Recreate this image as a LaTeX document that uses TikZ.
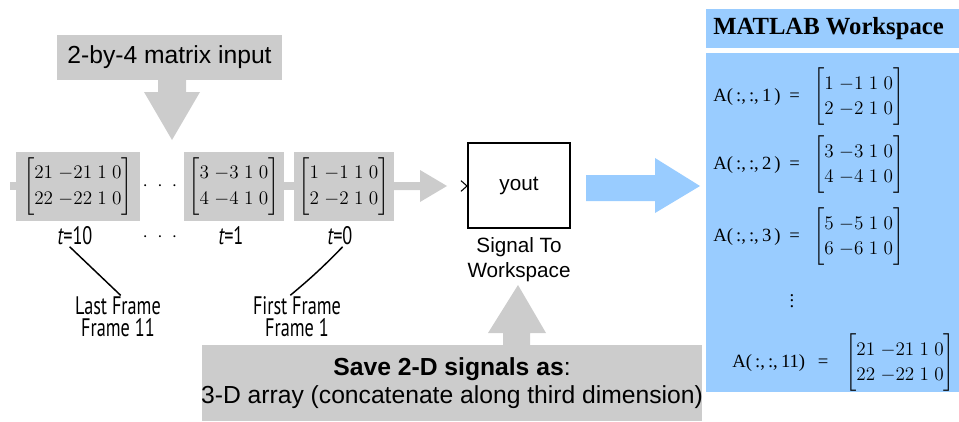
\documentclass[tikz,border=0pt]{standalone}
\usepackage{amsmath}
\usepackage{fontspec}
\usetikzlibrary{positioning}
\setmainfont{Liberation Serif}
\setsansfont{Liberation Sans}
\newfontfamily\framefont[FakeStretch=0.72]{PT Sans}
\definecolor{panelgray}{HTML}{CCCCCC}
\definecolor{wsblue}{HTML}{99CCFF}
\setlength{\arraycolsep}{2pt}
\renewcommand{\arraystretch}{1.2}

\begin{document}
\begin{tikzpicture}[x=0.75pt, y=-0.75pt,
    graybox/.style={fill=panelgray, inner sep=0pt},
    wsbox/.style={fill=wsblue, inner sep=0pt, minimum width=189.75pt},
    label/.style={font=\sffamily\fontsize{18.5}{21}\selectfont, align=center},
    blocktext/.style={font=\sffamily\fontsize{15.5}{18.75}\selectfont, align=center},
    frametext/.style={font=\framefont\fontsize{19}{16.5}\selectfont, align=center, inner sep=1pt},
    mat/.style={font=\fontsize{14}{16}\selectfont, inner sep=0pt},
    dots/.style={font=\fontsize{13.5}{16}\selectfont, inner sep=0pt},
    leader/.style={line width=1.1pt}
]
  \useasboundingbox (0,0) rectangle (959,421);

  \node[graybox, label, minimum width=168.75pt, minimum height=33.75pt] (input) at (169.5,57.5) {2-by-4 matrix input};
  \fill[panelgray] (158,80) -- (158,92) -- (144,92) -- (172,140) -- (200,92) -- (186,92) -- (186,80) -- cycle;

  \fill[panelgray] (10,182) rectangle (16,190);
  \fill[panelgray] (284,182) rectangle (294,190);
  \fill[panelgray] (394,182) -- (420,182) -- (420,170) -- (447,186) -- (420,202) -- (420,190) -- (394,190) -- cycle;

  \node[graybox, mat, minimum width=93pt, minimum height=51.75pt] (f10) at (78,186.5)
    {$\begin{bmatrix}21 & -21 & 1 & 0\\ 22 & -22 & 1 & 0\end{bmatrix}$};
  \node[graybox, mat, minimum width=75pt, minimum height=51.75pt] (f1) at (234,186.5)
    {$\begin{bmatrix}3 & -3 & 1 & 0\\ 4 & -4 & 1 & 0\end{bmatrix}$};
  \node[graybox, mat, minimum width=75pt, minimum height=51.75pt] (f0) at (344,186.5)
    {$\begin{bmatrix}1 & -1 & 1 & 0\\ 2 & -2 & 1 & 0\end{bmatrix}$};
  \node[dots] (gap) at (160,186) {$\cdot$\hspace{7pt}$\cdot$\hspace{7pt}$\cdot$};

  \node[frametext] (t10) at (75,236) {{\itshape t}=10};
  \node[dots] (tgap) at (160,237) {$\cdot$\hspace{7pt}$\cdot$\hspace{7pt}$\cdot$};
  \node[frametext] (t1) at (231,236) {{\itshape t}=1};
  \node[frametext] (t0) at (340,236) {{\itshape t}=0};

  \node[frametext] (last) at (118,317) {Last Frame\\Frame 11};
  \node[frametext] (first) at (297,317) {First Frame\\Frame 1};
  \draw[leader] ([xshift=-4pt]t10.south) -- ([xshift=2pt]last.north);
  \draw[leader] ([xshift=2pt]t0.south) to[bend left=3] ([xshift=-5pt]first.north);

  \node[draw, line width=1.4pt, minimum width=76.5pt, minimum height=63.75pt, blocktext] (sink) at (519,185.5) {yout};
  \coordinate (port) at (467,186);
  \draw[line width=0.8pt] ([xshift=-4.5pt, yshift=4pt]port) -- (port) -- ([xshift=-4.5pt, yshift=-4pt]port);
  \node[blocktext, below=3pt of sink] (sinkname) {Signal To\\Workspace};

  \node[graybox, label, minimum width=375pt, minimum height=57pt] (save) at (452,383) {};
  \node[label, font=\sffamily\fontsize{18.5}{21}\selectfont] (savetext) at (452,383)
    {\textbf{Save 2-D signals as}:\\3-D array (concatenate along third dimension)};
  \fill[panelgray] (503,345) -- (503,333) -- (488,333) -- (518,285) -- (546,333) -- (530,333) -- (530,345) -- cycle;

  \fill[wsblue] (586,175) -- (655,175) -- (655,158) -- (700,186) -- (655,213) -- (655,201) -- (586,201) -- cycle;

  \node[wsbox, minimum height=29.25pt] (wstitle) at (832.5,28.5) {};
  \node[anchor=west, font=\bfseries\fontsize{18.5}{20}\selectfont, inner sep=0pt] (wsname) at (713,28.5) {MATLAB Workspace};
  \node[wsbox, minimum height=254.25pt] (ws) at (832.5,222.5) {};

  \node[mat, anchor=west] (eq1) at (713,97) {\makebox[65pt][l]{A(\,:,\,:,\,1\,)\hfill=}};
  \node[mat, anchor=west] (m1) at (813,97) {$\begin{bmatrix}1 & -1 & 1 & 0\\ 2 & -2 & 1 & 0\end{bmatrix}$};
  \node[mat, anchor=west] (eq2) at (713,165) {\makebox[65pt][l]{A(\,:,\,:,\,2\,)\hfill=}};
  \node[mat, anchor=west] (m2) at (813,165) {$\begin{bmatrix}3 & -3 & 1 & 0\\ 4 & -4 & 1 & 0\end{bmatrix}$};
  \node[mat, anchor=west] (eq3) at (713,237) {\makebox[65pt][l]{A(\,:,\,:,\,3\,)\hfill=}};
  \node[mat, anchor=west] (m3) at (813,237) {$\begin{bmatrix}5 & -5 & 1 & 0\\ 6 & -6 & 1 & 0\end{bmatrix}$};
  \node[mat] (wsgap) at (792,297) {$\vdots$};
  \node[mat, anchor=west] (eq11) at (732,363) {\makebox[72pt][l]{A(\,:,\,:,\,11)\hfill=}};
  \node[mat, anchor=west] (m11) at (845,363) {$\begin{bmatrix}21 & -21 & 1 & 0\\ 22 & -22 & 1 & 0\end{bmatrix}$};
\end{tikzpicture}
\end{document}
